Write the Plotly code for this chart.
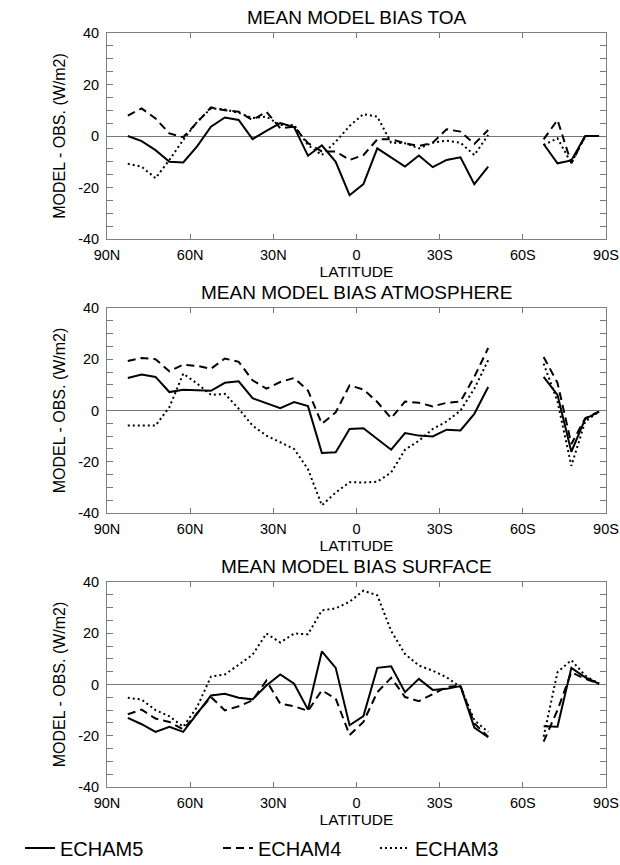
import plotly.graph_objects as go

lat = [82.5, 77.5, 72.5, 67.5, 62.5, 57.5, 52.5, 47.5, 42.5, 37.5, 32.5, 27.5, 22.5, 17.5,
       12.5, 7.5, 2.5, -2.5, -7.5, -12.5, -17.5, -22.5, -27.5, -32.5, -37.5, -42.5, -47.5,
       -52.5, -57.5, -62.5, -67.5, -72.5, -77.5, -82.5, -87.5]
N = None

toa_e5 = [0, -2, -5.5, -10, -10.3, -4, 3.6, 7.2, 6.2, -1.2, 2, 5, 3.5, -7.7, -3.6, -10, -23,
          -18.7, -4.8, -8.3, -11.9, -7.6, -12.1, -9.3, -8.3, -18.7, -11.9, N, N, N,
          -3.1, -10.6, -9.5, 0, 0]
toa_e4 = [7.9, 10.7, 6.8, 1, -0.5, 5.5, 11.1, 10, 9.4, 6.2, 9.4, 3, 3.6, -2.8, -6, -6, -9.3,
          -7.4, -1.3, -1.3, -2.8, -3.9, -2.6, 2.6, 1.7, -3.1, 2.3, N, N, N,
          -1.3, 6.2, -10.6, 0, 0]
toa_e3 = [-10.8, -11.9, -16.4, -9.3, -1.5, 5.5, 10.7, 10.3, 9, 7, 7.5, 4.3, 4.3, -3.5, -7.4,
          -2.2, 3.9, 8.5, 7.5, -2.6, -2.8, -4.8, -2.6, -1.8, -2.6, -7.4, 0.4, N, N, N,
          -3.5, -0.9, -10.6, 0, 0]

atm_e5 = [12.7, 14, 13.1, 7.2, 8.1, 7.8, 7.7, 10.8, 11.4, 4.8, 2.9, 0.9, 3.3, 1.7, -16.6,
          -16.3, -7.2, -6.9, -11.1, -15.3, -8.8, -9.8, -10.1, -7.5, -7.8, -1.3, 9.2, N, N, N,
          13.1, 6.1, -16.1, -3.3, -0.4]
atm_e4 = [19.3, 20.5, 20, 15.3, 17.9, 17.4, 16.3, 20.3, 19, 11.8, 8.5, 11.1, 12.7, 7.8, -5.2,
          -0.7, 9.8, 8.2, 3.3, -3, 3.5, 3, 1.6, 3, 3.5, 13.1, 24.4, N, N, N,
          20.9, 10.8, -13.1, -3, -0.4]
atm_e3 = [-5.9, -5.9, -5.9, 1.3, 14.4, 10.5, 6.1, 6.5, 0.7, -5.9, -9.8, -12.4, -15, -22.9,
          -37, -32, -28, -28.1, -27.8, -24.2, -15.3, -11.8, -7.2, -4.3, 0, 8.5, 19.6, N, N, N,
          18.3, 3.5, -21.6, -4.3, -0.4]

sfc_e5 = [-13, -15.5, -18.5, -16.5, -18.5, -11.4, -4.3, -3.6, -5.2, -5.8, -0.4, 3.9, 0.3,
          -9.8, 12.9, 6.5, -15.9, -12.3, 6.5, 7.1, -3, 2.2, -2.1, -1.7, -0.6, -16.8, -20.6,
          N, N, N, -16.3, -16.5, 6.5, 2.8, 0.3]
sfc_e4 = [-11.6, -9.8, -13.3, -14.6, -17.5, -11.4, -4.9, -10.1, -8.5, -6.2, 1.5, -7.5, -8.5,
          -10.3, -2.3, -5.5, -19.7, -14.6, -3, 2.6, -4.9, -6.5, -3.6, -1, -0.4, -15.2, -20.4,
          N, N, N, -22.3, -10, 4.8, 2.2, 0.3]
sfc_e3 = [-5.2, -5.9, -10, -12.4, -16.5, -8.8, 3.1, 3.9, 7.7, 11.6, 19.9, 16.4, 19.9, 19.6,
          28.9, 29.7, 32.3, 36.6, 34.8, 20.9, 11.9, 7.4, 5.4, 2.8, -1, -13.9, -18.5,
          N, N, N, -20.4, 4.8, 9.5, 3.5, 0.3]

panels = [
    ("MEAN MODEL BIAS TOA", toa_e5, toa_e4, toa_e3),
    ("MEAN MODEL BIAS ATMOSPHERE", atm_e5, atm_e4, atm_e3),
    ("MEAN MODEL BIAS SURFACE", sfc_e5, sfc_e4, sfc_e3),
]
x_tickvals = [90, 60, 30, 0, -30, -60, -90]
x_ticktext = ["90N", "60N", "30N", "0", "30S", "60S", "90S"]
y_tickvals = list(range(-40, 41, 5))
y_ticktext = [str(v) if v % 20 == 0 else "" for v in y_tickvals]
names = ["ECHAM5", "ECHAM4", "ECHAM3"]
dashes = ["solid", "8px,5px", "2px,3px"]
legend_ids = ["legend", "legend2", "legend3"]

FONT = "Liberation Sans, Arial, sans-serif"
H_PLOT = 754.0
tops = [33, 308, 582]
bots = [239, 513, 787]
domains = [[(787 - b) / H_PLOT, (787 - t) / H_PLOT] for t, b in zip(tops, bots)]

fig = go.Figure()
leg_common = dict(orientation="h", y=-0.081, yanchor="middle", xanchor="left",
                  font=dict(size=20, family=FONT), bgcolor="rgba(0,0,0,0)")
layout = dict(
    width=620, height=865,
    margin=dict(l=107, r=14, t=33, b=78, autoexpand=False),
    paper_bgcolor="white", plot_bgcolor="white",
    font=dict(family=FONT, size=14, color="black"),
    showlegend=True,
    legend=dict(x=-0.1743, **leg_common),
    legend2=dict(x=0.2224, **leg_common),
    legend3=dict(x=0.5371, **leg_common),
)
annotations = []
for i, (title, e5, e4, e3) in enumerate(panels):
    xa = "x" if i == 0 else f"x{i+1}"
    ya = "y" if i == 0 else f"y{i+1}"
    for j, (vals, name) in enumerate(zip([e5, e4, e3], names)):
        fig.add_trace(go.Scatter(
            x=lat, y=vals, mode="lines", name=name, showlegend=(i == 0),
            legend=legend_ids[j],
            line=dict(color="black", width=2, dash=dashes[j]),
            xaxis=xa, yaxis=ya, connectgaps=False))
    xkey = "xaxis" if i == 0 else f"xaxis{i+1}"
    ykey = "yaxis" if i == 0 else f"yaxis{i+1}"
    layout[xkey] = dict(
        domain=[0, 1], anchor=ya, range=[90, -90], tickvals=x_tickvals, ticktext=x_ticktext,
        ticks="inside", ticklen=5, tickcolor="#777", showline=True, linecolor="#808080",
        linewidth=1, mirror="ticks", showgrid=False, zeroline=False,
        ticklabelstandoff=3,
        title=dict(text="LATITUDE", standoff=2, font=dict(size=15.5)),
        tickfont=dict(size=14.5))
    layout[ykey] = dict(
        domain=domains[i], anchor=xa, range=[-40, 40], tickvals=y_tickvals,
        ticktext=y_ticktext, ticks="inside", ticklen=6, tickcolor="#777", showline=True,
        linecolor="#808080", linewidth=1, mirror="ticks", showgrid=False, zeroline=True,
        zerolinecolor="#777", zerolinewidth=1, ticklabelstandoff=4,
        title=dict(text="MODEL - OBS. (W/m2)", standoff=8, font=dict(size=16)),
        tickfont=dict(size=14.5))
    annotations.append(dict(text=title, xref="paper", yref="paper", x=0.5,
                            y=domains[i][1], yanchor="bottom", yshift=3, showarrow=False,
                            font=dict(size=19, family=FONT)))
layout["annotations"] = annotations
fig.update_layout(**layout)
fig.write_html("out.html")
